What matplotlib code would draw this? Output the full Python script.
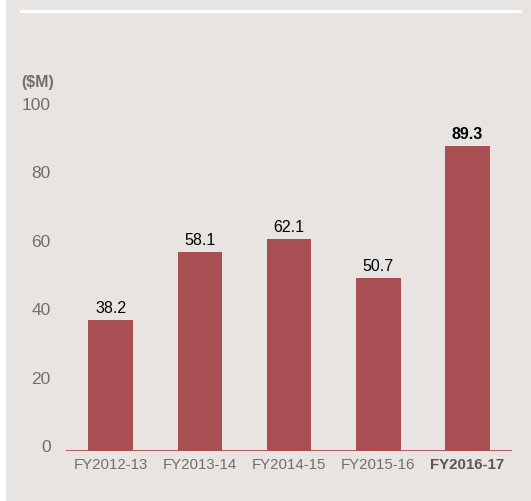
import matplotlib
matplotlib.use("Agg")
import matplotlib.pyplot as plt
import matplotlib.transforms as mtransforms
from matplotlib.patches import Rectangle
from matplotlib.lines import Line2D

# Data
years = ["FY2012-13", "FY2013-14", "FY2014-15", "FY2015-16", "FY2016-17"]
values = [38.2, 58.1, 62.1, 50.7, 89.3]
y_ticks = [0, 20, 40, 60, 80, 100]

bg = "#e8e4e1"
bar_color = "#a94f53"
grey = "#756d6a"

plt.rcParams["font.family"] = ["Liberation Sans", "DejaVu Sans"]

fig = plt.figure(figsize=(5.31, 5.02), dpi=100)
fig.patch.set_facecolor("white")
# grey panel, white strip on the left
fig.patches.append(Rectangle((6 / 531, 0), 1, 1, transform=fig.transFigure,
                             facecolor=bg, edgecolor="none", zorder=-10))
# white rule at the top
fig.lines.append(Line2D([21 / 531, 520 / 531], [1 - 12 / 502, 1 - 12 / 502],
                        transform=fig.transFigure, color="white", lw=2.2,
                        zorder=-5))

ax = fig.add_axes([66 / 531, 50 / 502, 446 / 531, 357 / 502])
ax.set_facecolor("none")

x = range(len(years))
bars = ax.bar(x, values, width=0.5, color=bar_color, zorder=2)

ax.set_xlim(-0.5, len(years) - 0.5)
ax.set_ylim(0, 104.4)

for spine in ax.spines.values():
    spine.set_visible(False)
ax.axhline(0, color=bar_color, lw=1.3, zorder=3)

ax.set_yticks(y_ticks)
ax.tick_params(axis="y", length=0, pad=11)
ax.set_yticklabels([str(t) for t in y_ticks], fontsize=12.5, color=grey)
# labels sit a little above their gridline position in the original
offset = mtransforms.ScaledTranslation(0, 6 / 100, fig.dpi_scale_trans)
for lab in ax.get_yticklabels():
    lab.set_transform(lab.get_transform() + offset)

ax.set_xticks(list(x))
ax.tick_params(axis="x", length=0, pad=4)
ax.set_xticklabels(years, fontsize=10.8, color=grey)
ax.get_xticklabels()[-1].set_fontweight("bold")
ax.get_xticklabels()[-1].set_color("#5e5654")

for i, (b, v) in enumerate(zip(bars, values)):
    ax.annotate(f"{v:.1f}", (b.get_x() + b.get_width() / 2, v),
                xytext=(0, 5.8), textcoords="offset points",
                ha="center", va="baseline", fontsize=11.5, color="black",
                fontweight="bold" if i == len(values) - 1 else "normal")

fig.text(21 / 531, 1 - 82 / 502, "($M)", fontsize=11.5, fontweight="bold",
         color=grey, ha="left", va="center")

fig.savefig("out.png", dpi=100, facecolor=fig.get_facecolor())
